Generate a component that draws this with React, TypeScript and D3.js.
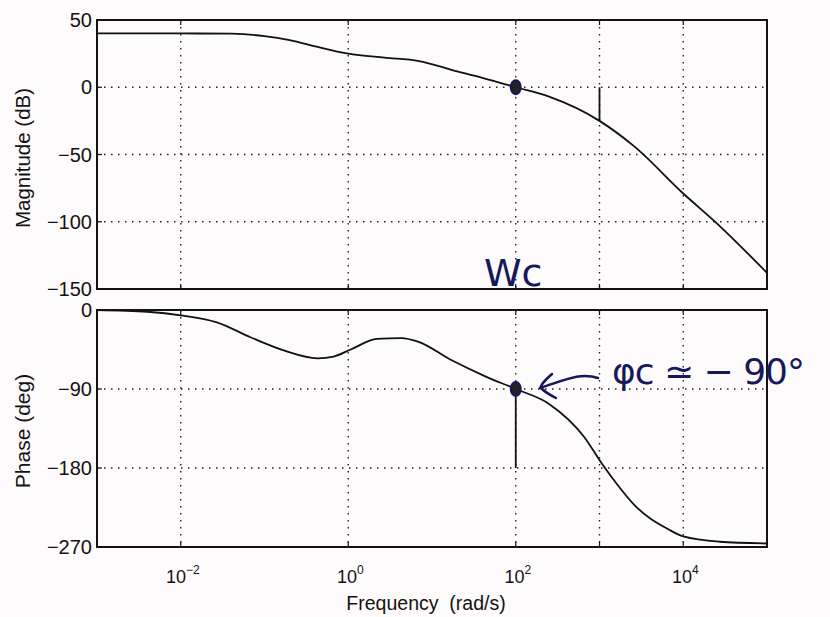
import React, { useEffect, useRef } from 'react';
import * as d3 from 'd3';

// magnitude curve
const magFreq = [0.001, 0.01, 0.04, 0.1, 0.2, 0.43, 1, 2.7, 7, 17, 40, 100, 250, 1000, 2600, 10000, 25000, 100000];
const magDb = [40, 40, 39.8, 38, 35, 30, 25, 22, 19.5, 13, 7, 0, -7, -25, -44, -79, -101, -138];

// phase curve
const phaseFreq = [0.001, 0.004, 0.01, 0.027, 0.068, 0.17, 0.43, 0.67, 1.07, 2.2, 4.3, 6.8, 17, 42, 100, 250, 660, 1050, 1700, 2600, 6700, 10000, 27000, 100000];
const phaseDeg = [0, -2, -6, -14, -31, -46, -55, -53, -45, -33, -32, -36, -57, -75, -90, -107, -145, -174, -201, -222, -250, -258, -264, -266];

const magTicks = [50, 0, -50, -100, -150];
const phaseTicks = [0, -90, -180, -270];
const freqGrid = [0.01, 1, 100, 1000, 10000];
const freqLabels = [[0.01, '\u22122'], [1, '0'], [100, '2'], [10000, '4']] as [number, string][];

// crossover and margin markers
const wc = 100;
const gainMarginFreq = 1000;

const App = () => {
    const ref = useRef<SVGSVGElement>(null);

    useEffect(() => {
        const svg = d3.select(ref.current);
        svg.selectAll('*').remove();

        const left = 97;
        const right = 767;
        const font = 'Liberation Sans, Arial, sans-serif';
        const ink = '#141212';
        const pen = '#17175e';

        const xScale = d3.scaleLog().domain([1e-3, 1e5]).range([left, right]);
        const magY = d3.scaleLinear().domain([-150, 50]).range([289, 20]);
        const phaseY = d3.scaleLinear().domain([-270, 0]).range([547, 310]);

        const panel = (yScale: d3.ScaleLinear<number, number>, ticks: number[], xs: number[], ys: number[]) => {
            const g = svg.append('g');
            const [y0, y1] = yScale.range();

            // dotted grid
            g.selectAll('.hgrid')
                .data(ticks.slice(1, -1))
                .enter()
                .append('line')
                .attr('x1', left).attr('x2', right)
                .attr('y1', d => yScale(d)).attr('y2', d => yScale(d))
                .attr('stroke', '#222').attr('stroke-width', 1.4)
                .attr('stroke-dasharray', '1.5,5.5');
            g.selectAll('.vgrid')
                .data(freqGrid)
                .enter()
                .append('line')
                .attr('x1', d => xScale(d)).attr('x2', d => xScale(d))
                .attr('y1', y1).attr('y2', y0)
                .attr('stroke', '#222').attr('stroke-width', 1.4)
                .attr('stroke-dasharray', '1.5,5.5');

            // inward tick marks
            g.selectAll('.ytick')
                .data(ticks)
                .enter()
                .append('line')
                .attr('x1', left).attr('x2', left + 5)
                .attr('y1', d => yScale(d)).attr('y2', d => yScale(d))
                .attr('stroke', ink).attr('stroke-width', 1.2);
            freqGrid.forEach(f => {
                g.append('line').attr('x1', xScale(f)).attr('x2', xScale(f))
                    .attr('y1', y0).attr('y2', y0 - 5).attr('stroke', ink).attr('stroke-width', 1.2);
                g.append('line').attr('x1', xScale(f)).attr('x2', xScale(f))
                    .attr('y1', y1).attr('y2', y1 + 5).attr('stroke', ink).attr('stroke-width', 1.2);
            });

            g.selectAll('.ylabel')
                .data(ticks)
                .enter()
                .append('text')
                .attr('x', left - 5)
                .attr('y', d => yScale(d) + 7)
                .attr('text-anchor', 'end')
                .attr('font-family', font)
                .attr('font-size', 20)
                .attr('fill', ink)
                .text(d => (d < 0 ? '\u2212' + Math.abs(d) : String(d)));

            const line = d3.line<number>()
                .x((d, i) => xScale(xs[i]))
                .y(d => yScale(d))
                .curve(d3.curveMonotoneX);
            g.append('path')
                .attr('d', line(ys))
                .attr('fill', 'none')
                .attr('stroke', '#111')
                .attr('stroke-width', 1.8);

            g.append('rect')
                .attr('x', left).attr('y', y1)
                .attr('width', right - left).attr('height', y0 - y1)
                .attr('fill', 'none')
                .attr('stroke', ink)
                .attr('stroke-width', 2);
        };

        panel(magY, magTicks, magFreq, magDb);
        panel(phaseY, phaseTicks, phaseFreq, phaseDeg);

        const magAt = d3.scaleLog().domain(magFreq).range(magDb);
        svg.append('line')
            .attr('x1', xScale(gainMarginFreq)).attr('x2', xScale(gainMarginFreq))
            .attr('y1', magY(0)).attr('y2', magY(magAt(gainMarginFreq)))
            .attr('stroke', '#111').attr('stroke-width', 1.8);
        svg.append('line')
            .attr('x1', xScale(wc)).attr('x2', xScale(wc))
            .attr('y1', phaseY(-90)).attr('y2', phaseY(-180))
            .attr('stroke', '#111').attr('stroke-width', 1.8);

        // x tick labels 10^n
        freqLabels.forEach(([f, p]) => {
            const t = svg.append('text')
                .attr('x', xScale(f) + 2)
                .attr('y', 583)
                .attr('text-anchor', 'middle')
                .attr('font-family', font)
                .attr('font-size', 18)
                .attr('fill', ink);
            t.append('tspan').text('10');
            t.append('tspan').attr('dy', -9).attr('font-size', 12).text(p);
        });

        svg.append('text')
            .attr('x', 426).attr('y', 610)
            .attr('text-anchor', 'middle')
            .attr('font-family', font).attr('font-size', 19.5).attr('fill', ink)
            .attr('xml:space', 'preserve')
            .text('Frequency  (rad/s)');
        svg.append('text')
            .attr('transform', 'translate(30,158) rotate(-90)')
            .attr('text-anchor', 'middle')
            .attr('font-family', font).attr('font-size', 20.5).attr('fill', ink)
            .text('Magnitude (dB)');
        svg.append('text')
            .attr('transform', 'translate(30,431) rotate(-90)')
            .attr('text-anchor', 'middle')
            .attr('font-family', font).attr('font-size', 21).attr('fill', ink)
            .text('Phase (deg)');

        // handwritten notes
        svg.append('ellipse')
            .attr('cx', xScale(wc)).attr('cy', magY(0))
            .attr('rx', 5).attr('ry', 7)
            .attr('fill', '#222').attr('stroke', pen).attr('stroke-width', 2);
        svg.append('ellipse')
            .attr('cx', xScale(wc)).attr('cy', phaseY(-90))
            .attr('rx', 5).attr('ry', 7)
            .attr('fill', '#222').attr('stroke', pen).attr('stroke-width', 2);
        svg.append('text')
            .attr('x', 484).attr('y', 286)
            .attr('font-family', 'DejaVu Sans, sans-serif')
            .attr('font-size', 38).attr('fill', pen)
            .text('Wc');
        svg.append('path')
            .attr('d', 'M598,378 C580,372 565,380 540,388 M552,374 C545,380 540,386 541,388 C545,392 552,396 556,398')
            .attr('fill', 'none').attr('stroke', pen).attr('stroke-width', 2.5)
            .attr('stroke-linecap', 'round');
        svg.append('text')
            .attr('x', 612).attr('y', 384)
            .attr('font-family', 'DejaVu Sans, sans-serif')
            .attr('font-size', 36).attr('fill', pen)
            .attr('letter-spacing', -1)
            .text('\u03c6c \u2243 \u2212 90\u00b0');
    }, []);

    return (
        <svg ref={ref} width={830} height={617}
            style={{ position: 'absolute', left: 0, top: 0, background: '#fdfbfb' }} />
    );
};

export default App;
